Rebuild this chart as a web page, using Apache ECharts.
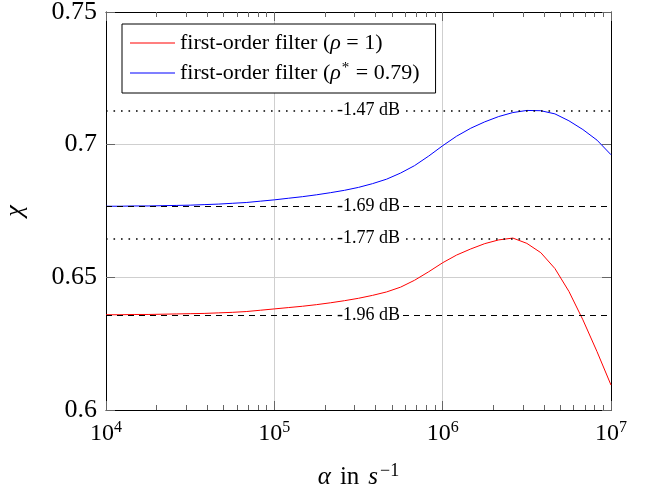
<!DOCTYPE html>
<html>
<head>
<meta charset="utf-8">
<script src="https://cdn.jsdelivr.net/npm/echarts@6/dist/echarts.min.js"></script>
<style>
  html, body { margin: 0; padding: 0; background: #fff; }
  #chart { width: 660px; height: 488px; }
</style>
</head>
<body>
<div id="chart"></div>
<script>
// sample points, log10(alpha)
const alphaExp = [4, 4.083, 4.167, 4.25, 4.333, 4.417, 4.5, 4.583, 4.667, 4.75, 4.833, 4.917,
  5, 5.083, 5.167, 5.25, 5.333, 5.417, 5.5, 5.583, 5.667, 5.75, 5.833, 5.917,
  6, 6.083, 6.167, 6.25, 6.333, 6.417, 6.5, 6.583, 6.667, 6.75, 6.833, 6.917, 7];

// first-order filter, rho = 1
const chiRho1 = [0.6359, 0.6359, 0.6360, 0.6360, 0.6361, 0.6362, 0.6363, 0.6364, 0.6366, 0.6368, 0.6371, 0.6376,
  0.6381, 0.6386, 0.6391, 0.6397, 0.6404, 0.6412, 0.6421, 0.6432, 0.6445, 0.6463, 0.6489, 0.6521,
  0.6555, 0.6584, 0.6607, 0.6627, 0.6641, 0.6648, 0.6628, 0.6593, 0.6533, 0.6447, 0.6340, 0.6220, 0.6094];

// first-order filter, rho* = 0.79
const chiRhoOpt = [0.6768, 0.6768, 0.6769, 0.6769, 0.6770, 0.6771, 0.6772, 0.6774, 0.6776, 0.6779, 0.6782, 0.6787,
  0.6792, 0.6798, 0.6804, 0.6811, 0.6819, 0.6828, 0.6839, 0.6853, 0.6870, 0.6893, 0.6921, 0.6957,
  0.6996, 0.7032, 0.7062, 0.7086, 0.7106, 0.7121, 0.7129, 0.7128, 0.7116, 0.7090, 0.7057, 0.7017, 0.6962];

// reference levels (value, label, style)
const levelsRho1 = [[0.6358, '-1.96 dB', 'dashed'], [0.6646, '-1.77 dB', 'dotted']];
const levelsRhoOpt = [[0.6768, '-1.69 dB', 'dashed'], [0.7128, '-1.47 dB', 'dotted']];

const xTicks = [1e4, 1e5, 1e6, 1e7];

const serif = 'Liberation Serif';
const minorTicks = [];
for (let e = 4; e < 7; e++) {
  for (let k = 2; k <= 9; k++) minorTicks.push(k * Math.pow(10, e));
}

function levelLines(levels) {
  return {
    silent: true,
    precision: 4,
    symbol: ['none', 'none'],
    data: levels.map(l => ({
      yAxis: l[0],
      lineStyle: {
        color: '#000', width: l[2] === 'dotted' ? 1.6 : 1,
        type: l[2] === 'dotted' ? [1.6, 5.9] : [6, 5]
      },
      label: {
        show: true,
        position: 'middle',
        distance: 0,
        verticalAlign: 'middle',
        formatter: '{sp| }{t|' + l[1] + '}',
        rich: {
          sp: { width: 20 },
          t: { fontFamily: serif, fontSize: 18, color: '#000', backgroundColor: '#fff', padding: [1, 2] }
        }
      }
    }))
  };
}

const myChart = echarts.init(document.getElementById('chart'));

const tickStyle = { color: '#666', width: 1 };
const baseX = { type: 'log', logBase: 10, min: 1e4, max: 1e7 };

myChart.setOption({
  animation: false,
  grid: { left: 106, right: 49, top: 12, bottom: 78, containLabel: false, outerBoundsMode: 'none' },
  legend: {
    orient: 'vertical',
    left: 122, top: 24,
    padding: [7, 16, 8, 8],
    itemGap: 6,
    itemWidth: 45, itemHeight: 1.2,
    icon: 'rect',
    borderColor: '#000', borderWidth: 1, backgroundColor: '#fff',
    formatter: name => name === 'rho1'
      ? '{r|first-order filter (}{i|ρ}{r| = 1)}'
      : '{r|first-order filter (}{i|ρ}{sup|*}{r| = 0.79)}',
    textStyle: {
      lineHeight: 24,
      rich: {
        r: { fontFamily: serif, fontSize: 22, color: '#000' },
        i: { fontFamily: serif, fontSize: 22, fontStyle: 'italic', color: '#000' },
        sup: { fontFamily: serif, fontSize: 15, color: '#000', padding: [0, 1, 9, 1] }
      }
    },
    data: ['rho1', 'rhoOpt']
  },
  xAxis: [
    Object.assign({}, baseX, {
      position: 'bottom',
      name: '{i|α}{r|in}{i|s}{sup|−1}',
      nameLocation: 'middle', nameGap: 52,
      nameTextStyle: {
        rich: {
          i: { fontFamily: serif, fontSize: 25, fontStyle: 'italic', color: '#000' },
          r: { fontFamily: serif, fontSize: 25, color: '#000', padding: [0, 9, 0, 9] },
          sup: { fontFamily: serif, fontSize: 18, color: '#000', padding: [0, 0, 12, 2] }
        }
      },
      axisLine: { show: true, lineStyle: { color: '#000', width: 1 } },
      axisTick: { show: true, inside: true, length: 9, customValues: xTicks, lineStyle: tickStyle },
      splitLine: { show: true, lineStyle: { color: '#cfcfcf', width: 1 } },
      axisLabel: {
        margin: 10,
        customValues: xTicks,
        formatter: v => '{b|10}{s|' + Math.round(Math.log10(v)) + '}',
        rich: {
          b: { fontFamily: serif, fontSize: 24, color: '#000' },
          s: { fontFamily: serif, fontSize: 16, color: '#000', padding: [0, 0, 11, 0] }
        }
      }
    }),
    Object.assign({}, baseX, {
      position: 'bottom',
      axisLine: { show: false },
      axisTick: { show: true, inside: true, length: 5, customValues: minorTicks, lineStyle: tickStyle },
      axisLabel: { show: false },
      splitLine: { show: false }
    }),
    Object.assign({}, baseX, {
      position: 'top',
      axisLine: { show: true, lineStyle: { color: '#000', width: 1 } },
      axisTick: { show: true, inside: true, length: 9, customValues: xTicks, lineStyle: tickStyle },
      axisLabel: { show: false },
      splitLine: { show: false }
    }),
    Object.assign({}, baseX, {
      position: 'top',
      axisLine: { show: false },
      axisTick: { show: true, inside: true, length: 5, customValues: minorTicks, lineStyle: tickStyle },
      axisLabel: { show: false },
      splitLine: { show: false }
    })
  ],
  yAxis: [
    {
      type: 'value', position: 'left',
      min: 0.6, max: 0.75, interval: 0.05,
      name: 'χ', nameLocation: 'middle', nameGap: 78, nameRotate: 90,
      nameTextStyle: { fontFamily: serif, fontSize: 26, fontStyle: 'italic', color: '#000' },
      axisLine: { show: true, lineStyle: { color: '#000', width: 1 } },
      axisTick: { show: true, inside: true, length: 9, lineStyle: tickStyle },
      splitLine: { show: true, lineStyle: { color: '#cfcfcf', width: 1 } },
      axisLabel: {
        margin: 9,
        fontFamily: serif, fontSize: 26, color: '#000',
        formatter: v => String(+v.toFixed(2))
      }
    },
    {
      type: 'value', position: 'right',
      min: 0.6, max: 0.75, interval: 0.05,
      axisLine: { show: true, lineStyle: { color: '#000', width: 1 } },
      axisTick: { show: true, inside: true, length: 9, lineStyle: tickStyle },
      splitLine: { show: false },
      axisLabel: { show: false }
    }
  ],
  series: [
    {
      name: 'rho1',
      type: 'line',
      showSymbol: false,
      color: '#ff0000',
      lineStyle: { width: 1, color: '#ff0000' },
      data: alphaExp.map((e, i) => [Math.pow(10, e), chiRho1[i]]),
      markLine: levelLines(levelsRho1)
    },
    {
      name: 'rhoOpt',
      type: 'line',
      showSymbol: false,
      color: '#0000ff',
      lineStyle: { width: 1, color: '#0000ff' },
      data: alphaExp.map((e, i) => [Math.pow(10, e), chiRhoOpt[i]]),
      markLine: levelLines(levelsRhoOpt)
    }
  ]
});
</script>
</body>
</html>
